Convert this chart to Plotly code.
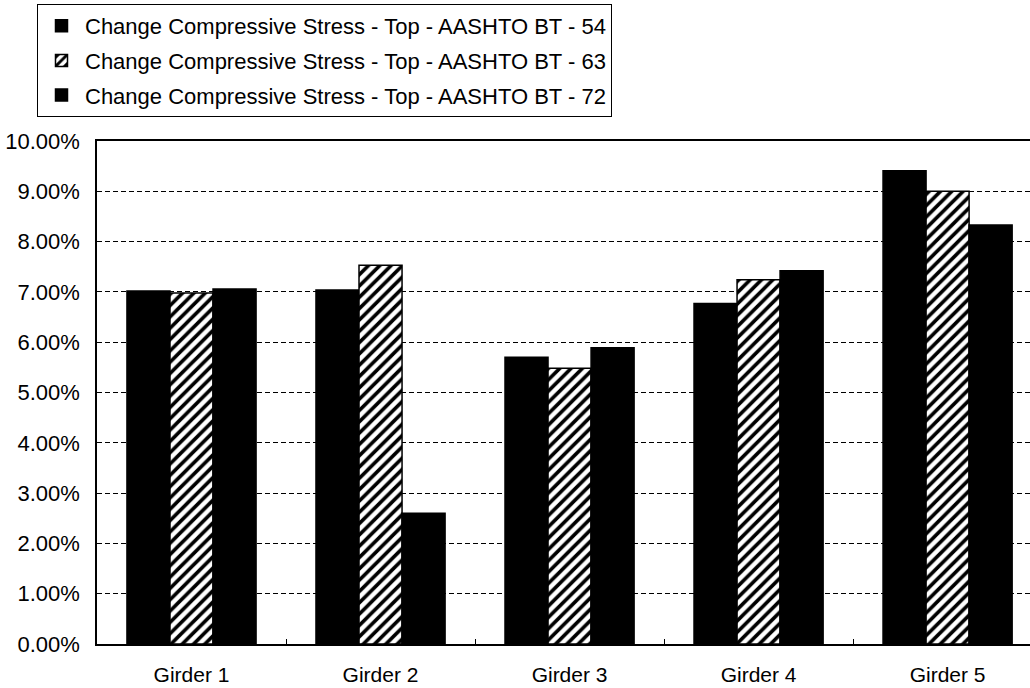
import plotly.graph_objects as go

# Girder categories and percentage change in compressive stress (top fibre)
girders = ["Girder 1", "Girder 2", "Girder 3", "Girder 4", "Girder 5"]
bt54 = [0.0702, 0.0704, 0.0570, 0.0677, 0.0941]
bt63 = [0.0698, 0.0753, 0.0548, 0.0724, 0.0900]
bt72 = [0.0706, 0.0260, 0.0589, 0.0742, 0.0833]
series_names = [
    "Change Compressive Stress - Top - AASHTO BT - 54",
    "Change Compressive Stress - Top - AASHTO BT - 63",
    "Change Compressive Stress - Top - AASHTO BT - 72",
]
y_ticks = [0.0, 0.01, 0.02, 0.03, 0.04, 0.05, 0.06, 0.07, 0.08, 0.09, 0.10]

FONT = "Arial, Liberation Sans, Helvetica, sans-serif"

fig = go.Figure()

fig.add_trace(go.Bar(
    x=girders, y=bt54, name=series_names[0], legendgroup="a",
    marker=dict(color="black", line=dict(color="black", width=1.5)),
))
fig.add_trace(go.Bar(
    x=girders, y=bt63, name=series_names[1], legendgroup="b",
    marker=dict(
        color="white",
        line=dict(color="black", width=1.5),
        pattern=dict(shape="/", fgcolor="black", bgcolor="white",
                     size=8, solidity=0.45, fillmode="replace"),
    ),
))
fig.add_trace(go.Bar(
    x=girders, y=bt72, name=series_names[2], legendgroup="c",
    marker=dict(color="black", line=dict(color="black", width=1.5)),
))

# plot area spans x 97..1030 px, y 141..644 px
PLOT_W = 1030 - 97
PLOT_H = 644 - 141

fig.update_layout(
    width=1030, height=688,
    margin=dict(l=97, r=0, t=141, b=44, autoexpand=False),
    paper_bgcolor="white", plot_bgcolor="white",
    font=dict(family=FONT, size=21, color="black"),
    barmode="group", bargap=0.317, bargroupgap=0,
    showlegend=True,
    legend=dict(
        x=(37 - 97) / PLOT_W, y=1 + (141 - 4) / PLOT_H,
        xanchor="left", yanchor="top",
        bordercolor="black", borderwidth=1, bgcolor="white",
        font=dict(family=FONT, size=22, color="black"),
        traceorder="grouped", tracegroupgap=3,
        itemwidth=37,
    ),
    xaxis=dict(
        range=[-0.5, 4.436],
        showline=True, linecolor="black", linewidth=1.5, mirror=True,
        ticks="inside", tickson="boundaries", ticklen=5, tickcolor="black",
        showgrid=False, ticklabelstandoff=11, tickangle=0,
        tickfont=dict(family=FONT, size=21, color="black"),
    ),
    yaxis=dict(
        range=[0, 0.10], tickvals=y_ticks, tickformat=".2%",
        showline=True, linecolor="black", linewidth=1.5,
        showgrid=True, gridcolor="black", gridwidth=1, griddash="5px,3px",
        zeroline=False, ticks="", ticklabelstandoff=11,
        tickfont=dict(family=FONT, size=22, color="black"),
    ),
)

fig.write_html("out.html")
